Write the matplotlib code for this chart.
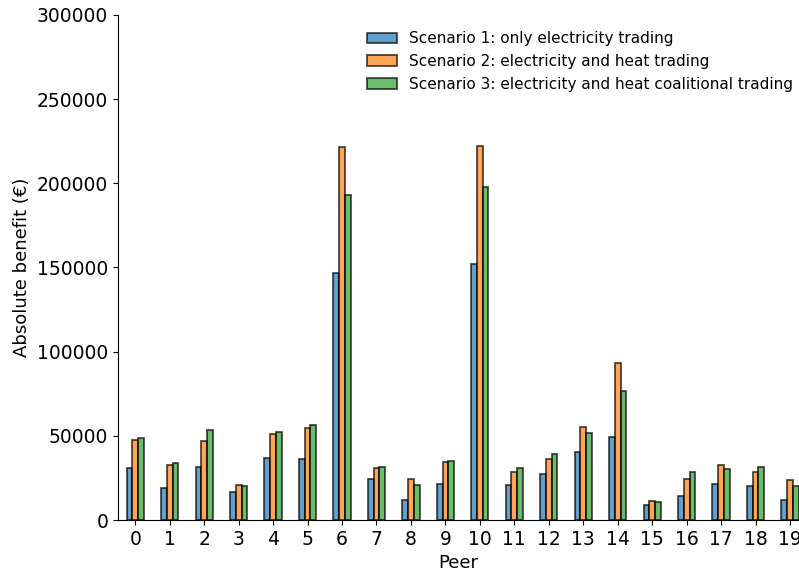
import numpy as np
import matplotlib
matplotlib.use("Agg")
import matplotlib.pyplot as plt

peers = list(range(20))
scenario1 = [31000, 18800, 31300, 16600, 37000, 36400, 146500, 24500, 11900, 21400,
             151800, 20800, 27300, 40600, 49500, 8700, 14100, 21200, 20200, 11700]
scenario2 = [47700, 32900, 47100, 20800, 50900, 54800, 221500, 30900, 24400, 34300,
             222300, 28300, 36400, 55000, 93100, 11100, 24200, 32900, 28700, 23800]
scenario3 = [48900, 34000, 53500, 20000, 52300, 56400, 193300, 31700, 21000, 34900,
             197900, 30900, 39400, 51500, 76800, 10700, 28300, 30100, 31700, 20200]
labels = ["Scenario 1: only electricity trading",
          "Scenario 2: electricity and heat trading",
          "Scenario 3: electricity and heat coalitional trading"]
colors = ["tab:blue", "tab:orange", "tab:green"]

fig = plt.figure(figsize=(7.99, 5.72), dpi=100)
ax = fig.add_axes([0.1477, 0.0909, 0.8523, 0.8829])

x = np.arange(len(peers))
w = 0.5 / 3
for i, vals in enumerate([scenario1, scenario2, scenario3]):
    ax.bar(x + (i - 1) * w, vals, width=w, color=colors[i], alpha=0.7,
           edgecolor="black", linewidth=1.3, label=labels[i])

ax.set_xlim(-0.5, 19.26)
ax.set_ylim(0, 300000)
ax.set_xticks(x)
ax.set_xticklabels([str(p) for p in peers])
ax.tick_params(labelsize=13.5)
ax.set_xlabel("Peer", fontsize=13)
ax.set_ylabel("Absolute benefit (€)", fontsize=13)
ax.spines["top"].set_visible(False)
ax.spines["right"].set_visible(False)

ax.legend(loc="upper left", bbox_to_anchor=(0.345, 0.995), frameon=False, fontsize=11)

fig.savefig("out.png", dpi=100)
